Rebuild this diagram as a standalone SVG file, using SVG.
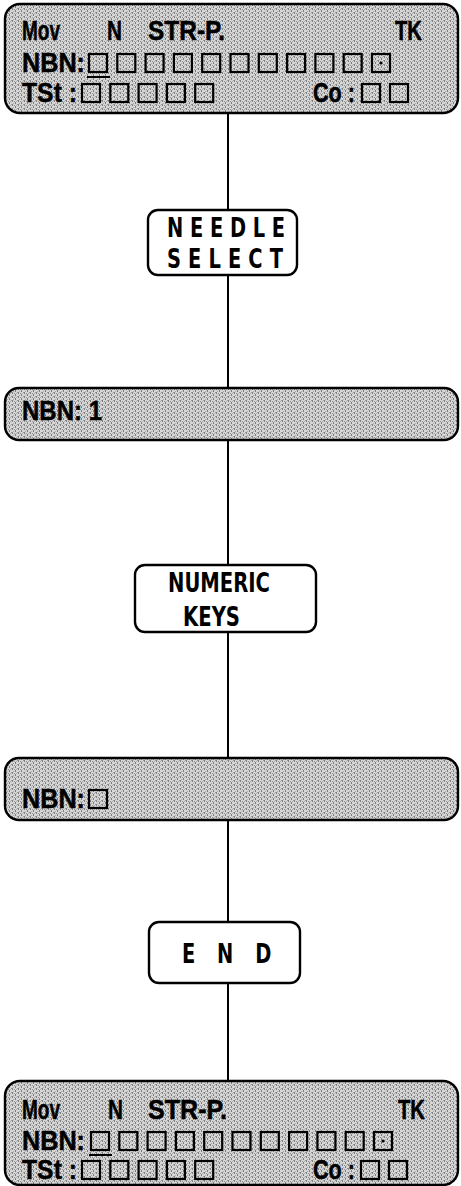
<svg xmlns="http://www.w3.org/2000/svg" width="461" height="1186" viewBox="0 0 461 1186">
<defs>
<pattern id="stip" width="6" height="4" patternUnits="userSpaceOnUse">
<rect width="6" height="4" fill="#d6d6d6"/>
<rect x="0" y="0" width="1" height="2" fill="#808080"/>
<rect x="2" y="1" width="1" height="1" fill="#909090"/>
<rect x="3" y="2" width="1" height="2" fill="#7c7c7c"/>
<rect x="5" y="0" width="1" height="1" fill="#9a9a9a"/>
<rect x="1" y="3" width="1" height="1" fill="#a8a8a8"/>
<rect x="4" y="1" width="1" height="1" fill="#b0b0b0"/>
</pattern>
</defs>
<style>
.disp{fill:url(#stip);stroke:#000;stroke-width:2.4}
.key{fill:#fff;stroke:#000;stroke-width:2.4}
.dt{font-family:"Liberation Sans",Arial,sans-serif;font-weight:bold;font-size:28px;fill:#000;stroke:#000;stroke-width:0.5}
.kt{font-family:"DejaVu Sans","Liberation Sans",sans-serif;font-weight:bold;font-size:27px;fill:#000}
.sq{fill:none;stroke:#000;stroke-width:2.2}
.ul{stroke:#000;stroke-width:2}
.conn{stroke:#000;stroke-width:2;fill:none}
</style>
<g id="connectors">
<line class="conn" x1="228" y1="113" x2="228" y2="210"/>
<line class="conn" x1="228" y1="275" x2="228" y2="388"/>
<line class="conn" x1="228" y1="440" x2="228" y2="565"/>
<line class="conn" x1="228" y1="632" x2="228" y2="758"/>
<line class="conn" x1="228" y1="820" x2="228" y2="922"/>
<line class="conn" x1="228" y1="983" x2="228" y2="1081"/>
</g>
<g id="display1">
<rect class="disp" x="5" y="4" width="453" height="109" rx="15"/>
<text class="dt" x="22" y="40" textLength="38" lengthAdjust="spacingAndGlyphs">Mov</text>
<text class="dt" x="107" y="40" textLength="15" lengthAdjust="spacingAndGlyphs">N</text>
<text class="dt" x="148" y="40" textLength="77" lengthAdjust="spacingAndGlyphs">STR-P.</text>
<text class="dt" x="395" y="40" textLength="27" lengthAdjust="spacingAndGlyphs">TK</text>
<text class="dt" x="22" y="72" textLength="63" lengthAdjust="spacingAndGlyphs">NBN:</text>
<g>
<rect class="sq" x="89" y="54" width="18" height="18"/>
<rect class="sq" x="117.3" y="54" width="18" height="18"/>
<rect class="sq" x="145.6" y="54" width="18" height="18"/>
<rect class="sq" x="173.9" y="54" width="18" height="18"/>
<rect class="sq" x="202.2" y="54" width="18" height="18"/>
<rect class="sq" x="230.5" y="54" width="18" height="18"/>
<rect class="sq" x="258.8" y="54" width="18" height="18"/>
<rect class="sq" x="287.1" y="54" width="18" height="18"/>
<rect class="sq" x="315.4" y="54" width="18" height="18"/>
<rect class="sq" x="343.7" y="54" width="18" height="18"/>
<rect class="sq" x="372" y="54" width="18" height="18"/>
<circle cx="381" cy="63" r="1.6" fill="#000"/>
</g>
<line class="ul" x1="87" y1="77" x2="110" y2="77"/>
<text class="dt" x="22" y="102" textLength="55" lengthAdjust="spacingAndGlyphs">TSt :</text>
<rect class="sq" x="82" y="84" width="18" height="18"/>
<rect class="sq" x="110.3" y="84" width="18" height="18"/>
<rect class="sq" x="138.6" y="84" width="18" height="18"/>
<rect class="sq" x="166.9" y="84" width="18" height="18"/>
<rect class="sq" x="195.2" y="84" width="18" height="18"/>
<text class="dt" x="313" y="102" textLength="42" lengthAdjust="spacingAndGlyphs">Co :</text>
<rect class="sq" x="362" y="84" width="18" height="18"/>
<rect class="sq" x="390" y="84" width="18" height="18"/>
</g>
<g id="key-needle-select">
<rect class="key" x="148" y="210" width="149" height="65" rx="10"/>
<text class="kt" transform="translate(167,237) scale(0.72,1)" textLength="164" lengthAdjust="spacing">NEEDLE</text>
<text class="kt" transform="translate(167,268) scale(0.72,1)" textLength="161" lengthAdjust="spacing">SELECT</text>
</g>
<g id="display2">
<rect class="disp" x="5" y="388" width="453" height="52" rx="14"/>
<text class="dt" x="22" y="420" textLength="80" lengthAdjust="spacingAndGlyphs">NBN: 1</text>
</g>
<g id="key-numeric-keys">
<rect class="key" x="135" y="565" width="181" height="67" rx="10"/>
<text class="kt" x="168" y="592" textLength="102" lengthAdjust="spacingAndGlyphs">NUMERIC</text>
<text class="kt" x="183" y="626" textLength="57" lengthAdjust="spacingAndGlyphs">KEYS</text>
</g>
<g id="display3">
<rect class="disp" x="5" y="758" width="453" height="62" rx="14"/>
<text class="dt" x="22" y="808" textLength="63" lengthAdjust="spacingAndGlyphs">NBN:</text>
<rect class="sq" x="89" y="790" width="18" height="18"/>
</g>
<g id="key-end">
<rect class="key" x="149" y="922" width="151" height="61" rx="10"/>
<text class="kt" transform="translate(182,963) scale(0.72,1)" textLength="124" lengthAdjust="spacing">E N D</text>
</g>
<g id="display4">
<rect class="disp" x="5" y="1081" width="453" height="104" rx="15"/>
<text class="dt" x="22" y="1119" textLength="38" lengthAdjust="spacingAndGlyphs">Mov</text>
<text class="dt" x="108" y="1119" textLength="15" lengthAdjust="spacingAndGlyphs">N</text>
<text class="dt" x="148" y="1119" textLength="79" lengthAdjust="spacingAndGlyphs">STR-P.</text>
<text class="dt" x="398" y="1119" textLength="27" lengthAdjust="spacingAndGlyphs">TK</text>
<text class="dt" x="22" y="1150" textLength="63" lengthAdjust="spacingAndGlyphs">NBN:</text>
<g>
<rect class="sq" x="91" y="1132" width="18" height="18"/>
<rect class="sq" x="119.3" y="1132" width="18" height="18"/>
<rect class="sq" x="147.6" y="1132" width="18" height="18"/>
<rect class="sq" x="175.9" y="1132" width="18" height="18"/>
<rect class="sq" x="204.2" y="1132" width="18" height="18"/>
<rect class="sq" x="232.5" y="1132" width="18" height="18"/>
<rect class="sq" x="260.8" y="1132" width="18" height="18"/>
<rect class="sq" x="289.1" y="1132" width="18" height="18"/>
<rect class="sq" x="317.4" y="1132" width="18" height="18"/>
<rect class="sq" x="345.7" y="1132" width="18" height="18"/>
<rect class="sq" x="374" y="1132" width="18" height="18"/>
<circle cx="383" cy="1141" r="1.6" fill="#000"/>
</g>
<line class="ul" x1="89" y1="1155" x2="112" y2="1155"/>
<text class="dt" x="22" y="1179" textLength="55" lengthAdjust="spacingAndGlyphs">TSt :</text>
<rect class="sq" x="82" y="1161" width="18" height="18"/>
<rect class="sq" x="110.3" y="1161" width="18" height="18"/>
<rect class="sq" x="138.6" y="1161" width="18" height="18"/>
<rect class="sq" x="166.9" y="1161" width="18" height="18"/>
<rect class="sq" x="195.2" y="1161" width="18" height="18"/>
<text class="dt" x="313" y="1179" textLength="42" lengthAdjust="spacingAndGlyphs">Co :</text>
<rect class="sq" x="361" y="1161" width="18" height="18"/>
<rect class="sq" x="389" y="1161" width="18" height="18"/>
</g>
</svg>
